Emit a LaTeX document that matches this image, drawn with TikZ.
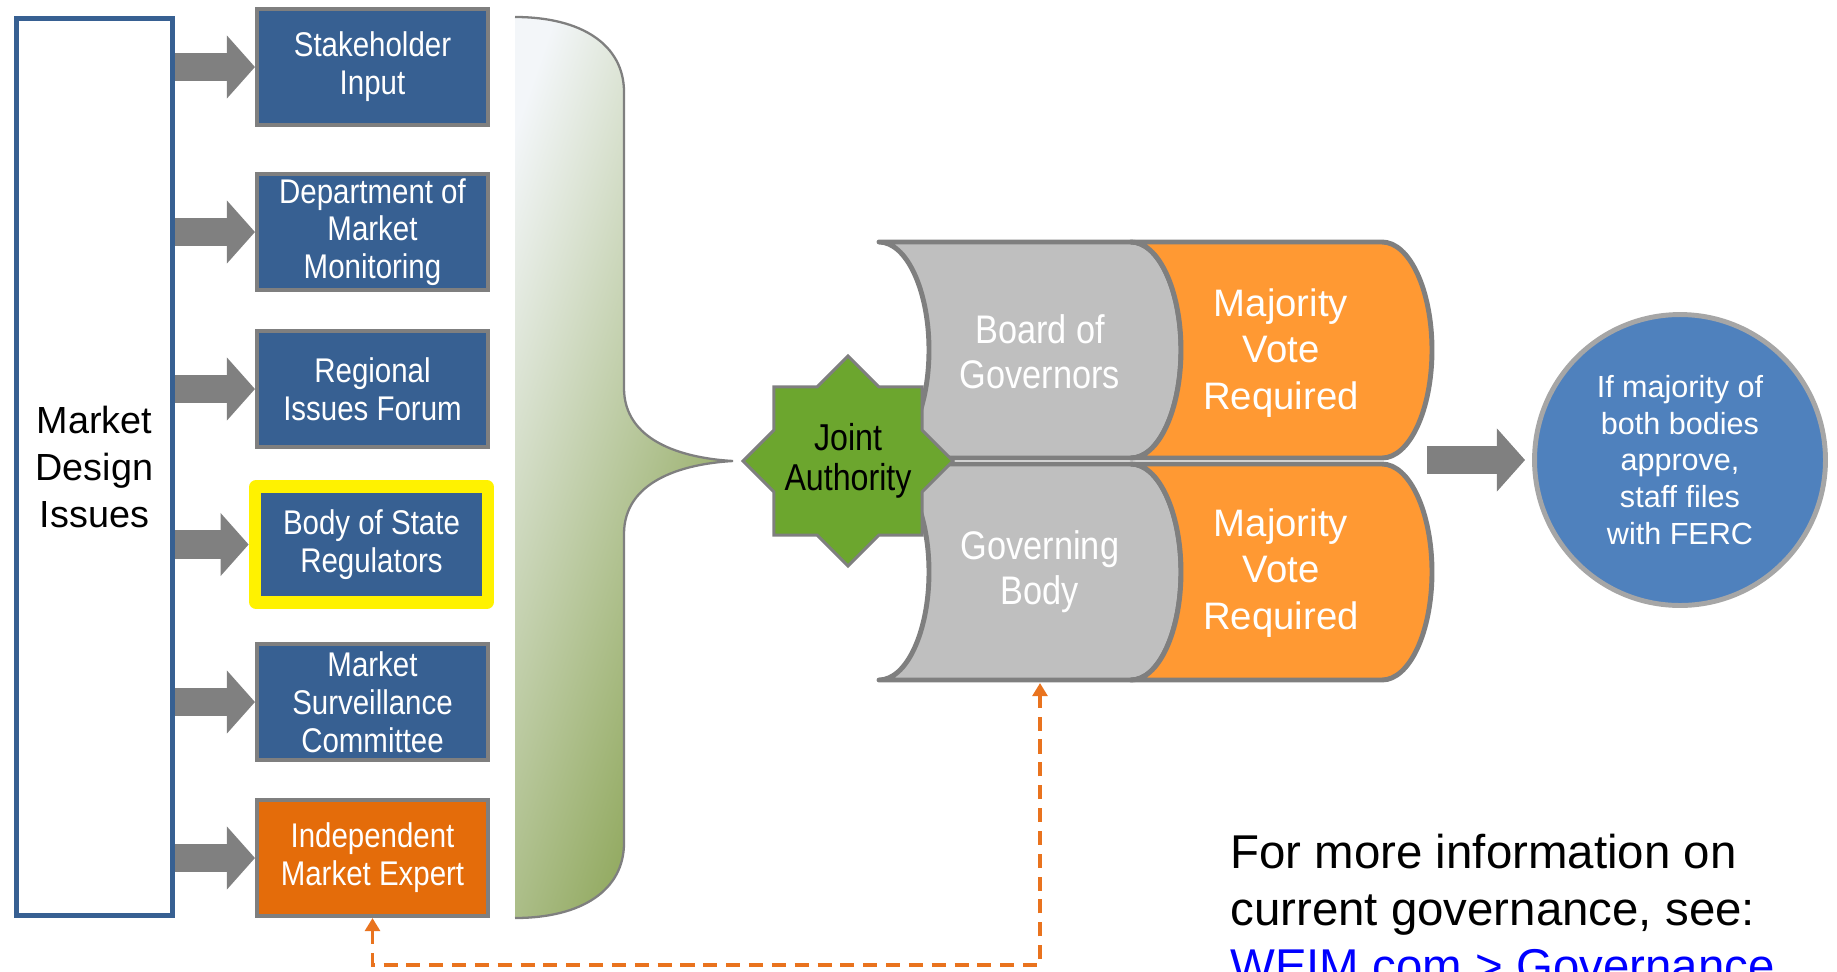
\documentclass[tikz,border=0pt]{standalone}
\usepackage{fontspec}
\setmainfont{Liberation Sans}
\newfontfamily\narrowfont[FakeStretch=0.86]{Liberation Sans}
\usetikzlibrary{shapes.geometric, arrows.meta, positioning}
\definecolor{boxblue}{RGB}{55,96,146}
\definecolor{boxgray}{RGB}{127,127,127}
\definecolor{expertorange}{RGB}{228,108,10}
\definecolor{arrowgray}{RGB}{128,128,128}
\definecolor{bracelight}{RGB}{243,246,249}
\definecolor{bracegreen}{RGB}{148,171,99}
\definecolor{stargreen}{RGB}{108,166,46}
\definecolor{cylgray}{RGB}{191,191,191}
\definecolor{cylorange}{RGB}{255,153,51}
\definecolor{fercblue}{RGB}{79,129,189}
\definecolor{fercrim}{RGB}{166,166,166}
\definecolor{reviewline}{RGB}{233,115,30}
\definecolor{linkblue}{RGB}{0,0,255}
\pgfdeclareverticalshading{bracefade}{100bp}{color(0bp)=(bracegreen); color(34bp)=(bracegreen);
    color(77bp)=(bracelight); color(100bp)=(bracelight)}

\begin{document}
\begin{tikzpicture}[x=0.02cm, y=-0.02cm,
    issuebox/.style={draw=boxgray, line width=2.3pt, fill=boxblue, text=white,
        minimum width=4.62cm, minimum height=2.32cm, inner sep=0pt, align=center,
        font=\narrowfont\fontsize{19.5}{21.5}\selectfont},
    feed/.style={draw=arrowgray, line width=16pt, -{Triangle[length=16pt, width=35pt]}},
    cyl/.style={draw=boxgray, line width=2.8pt, line join=round},
    cyltext/.style={text=white, align=center}]
    \useasboundingbox (0,0) rectangle (1837,971);
    \clip (0,0) rectangle (1837,971);

    % Sources of input
    \node[draw=boxblue, line width=2.8pt, minimum width=3.12cm, minimum height=17.94cm, align=center,
        font=\fontsize{21.5}{26.6}\selectfont] (market) at (94.5,467) {Market\\Design\\Issues};
    \node[issuebox] (stake) at (372.5,67) {Stakeholder\\Input};
    \node[issuebox] (dmm) at (372.5,232) {Department of\\Market\\Monitoring};
    \node[issuebox] (rif) at (372.5,389) {Regional\\Issues Forum};
    \node[fill=yellow, rounded corners=4pt, minimum width=4.9cm, minimum height=2.58cm] (bosrmark) at (371.5,544.5) {};
    \node[issuebox, draw=none, minimum width=4.42cm, minimum height=2.06cm] (bosr) at (371.5,544.5) {Body of State\\Regulators};
    \node[issuebox] (msc) at (372.5,702) {Market\\Surveillance\\Committee};
    \node[issuebox, fill=expertorange] (ime) at (372.5,858) {Independent\\Market Expert};

    \draw[feed] (market.east |- stake) -- (stake.west);
    \draw[feed] (market.east |- dmm) -- (dmm.west);
    \draw[feed] (market.east |- rif) -- (rif.west);
    \draw[feed] (market.east |- bosrmark) -- (bosrmark.west);
    \draw[feed] (market.east |- msc) -- (msc.west);
    \draw[feed] (market.east |- ime) -- (ime.west);

    % Brace gathering the inputs
    \shade[shading=bracefade, shading angle=71]
        (515,17) .. controls (582,17) and (624,45) .. (624,92) -- (624,388)
        .. controls (624,440) and (680,458) .. (733,461)
        .. controls (680,464) and (624,482) .. (624,534) -- (624,843)
        .. controls (624,890) and (582,918) .. (515,918) -- cycle;
    \draw[boxgray, line width=1.3pt]
        (515,17) .. controls (582,17) and (624,45) .. (624,92) -- (624,388)
        .. controls (624,440) and (680,458) .. (733,461)
        .. controls (680,464) and (624,482) .. (624,534) -- (624,843)
        .. controls (624,890) and (582,918) .. (515,918);

    % Two voting bodies
    \filldraw[cyl, fill=cylgray] (879,242) -- (1131,242) arc[start angle=-90, end angle=90, x radius=50, y radius=108]
        -- (879,458) arc[start angle=90, end angle=-90, x radius=50, y radius=108] -- cycle;
    \filldraw[cyl, fill=cylorange] (1131,242) -- (1382,242) arc[start angle=-90, end angle=90, x radius=50, y radius=108]
        -- (1131,458) arc[start angle=90, end angle=-90, x radius=50, y radius=108] -- cycle;
    \filldraw[cyl, fill=cylgray] (879,464) -- (1131,464) arc[start angle=-90, end angle=90, x radius=50, y radius=108]
        -- (879,680) arc[start angle=90, end angle=-90, x radius=50, y radius=108] -- cycle;
    \filldraw[cyl, fill=cylorange] (1131,464) -- (1382,464) arc[start angle=-90, end angle=90, x radius=50, y radius=108]
        -- (1131,680) arc[start angle=90, end angle=-90, x radius=50, y radius=108] -- cycle;

    \node[cyltext, font=\narrowfont\fontsize{22.7}{25.5}\selectfont] (bog) at (1040,352) {Board of\\Governors};
    \node[cyltext, font=\narrowfont\fontsize{22.7}{25.5}\selectfont] (gb) at (1040,572) {Governing\\Body};
    \node[cyltext, font=\fontsize{21.8}{26.3}\selectfont] (mvrtop) at (1281,353) {Majority\\Vote\\Required};
    \node[cyltext, font=\fontsize{21.8}{26.3}\selectfont] (mvrbot) at (1281,573) {Majority\\Vote\\Required};

    \node[star, star points=8, star point ratio=1.307, minimum size=4.2cm, inner sep=0pt,
        fill=stargreen, draw=boxgray, line width=1.7pt] (ja) at (848,461) {};
    \node[align=center, font=\narrowfont\fontsize{21.3}{22.7}\selectfont] (jatext) at (ja) {Joint\\Authority};

    % Outcome
    \coordinate (cylout) at (1427,460);
    \node[circle, minimum size=5.82cm, inner sep=0pt, fill=fercblue, draw=fercrim, line width=2.8pt,
        text=white, align=center, font=\fontsize{17.4}{21}\selectfont] (ferc) at (1680,460)
        {If majority of\\both bodies\\approve,\\staff files\\with FERC};
    \draw[feed, shorten >=4pt] (cylout) -- (ferc.west);

    % Expert feedback loop
    \coordinate (gbbase) at (1040,683);
    \coordinate (loopcorner) at (1040,965);
    \draw[reviewline, line width=2.2pt, dash pattern=on 8pt off 5pt,
        {Triangle[length=7.5pt, width=8.5pt]}-{Triangle[length=7.5pt, width=8.5pt]}]
        (ime.south) |- (loopcorner) -- (gbbase);

    \node[anchor=north west, align=left, inner sep=0pt, font=\fontsize{27}{32.5}\selectfont] (info) at (1230,834)
        {For more information on\\current governance, see:\\\textcolor{linkblue}{WEIM.com > Governance}};
\end{tikzpicture}
\end{document}
